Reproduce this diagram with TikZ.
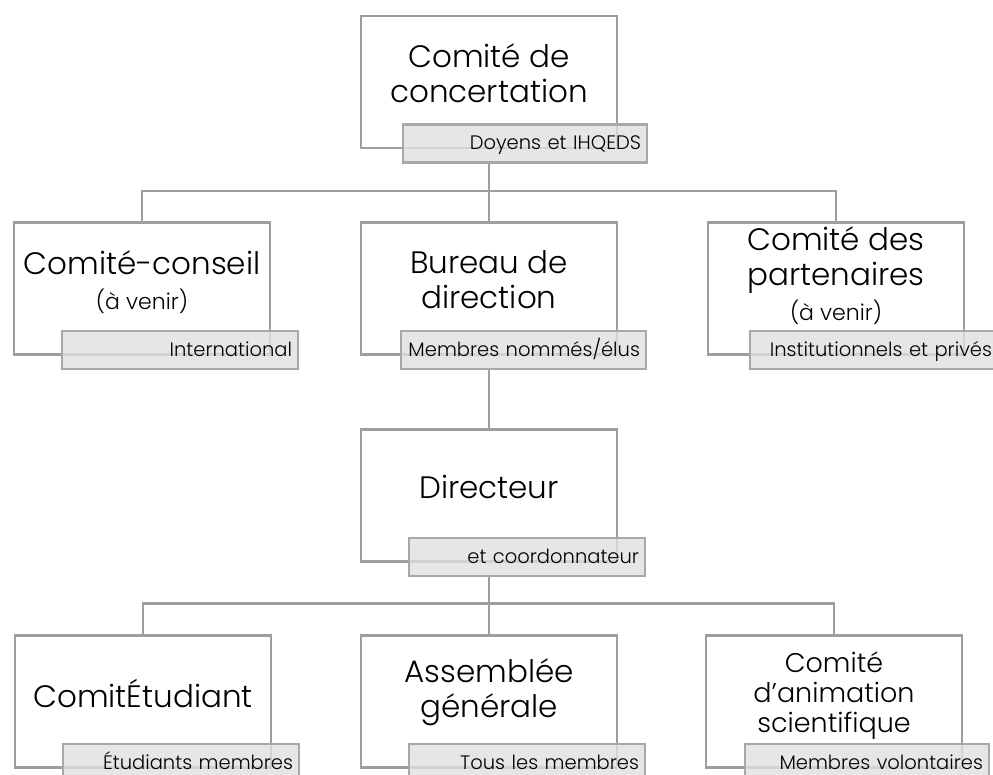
\documentclass[tikz,border=0pt]{standalone}
\usepackage{fontspec}
\setmainfont{Poppins}[UprightFont=* Light]
\usetikzlibrary{positioning}

\definecolor{traitgris}{HTML}{9E9E9E}
\definecolor{fondgris}{HTML}{E0E0E0}

\tikzset{
  boite/.style={draw=traitgris, line width=2.6pt, minimum width=256pt, minimum height=132pt, inner sep=0pt},
  titre/.style={align=center, inner sep=0pt, font=\fontsize{31}{35}\selectfont},
  etiq/.style={draw=traitgris!90, fill=fondgris, fill opacity=0.8, text opacity=1, line width=2.6pt,
    anchor=north east, text width=224pt, align=right, minimum height=38pt, inner xsep=6pt, inner ysep=0pt,
    text height=15pt, text depth=3pt, font=\fontsize{19.5}{22}\selectfont},
  lien/.style={draw=traitgris, line width=2.6pt},
}
\newcommand{\petit}{\fontsize{22}{25}\selectfont}

\begin{document}
\begin{tikzpicture}[x=1pt, y=-1pt]
\useasboundingbox (0,0) rectangle (993,775);

% boites
\node[boite] (cc) at (489,82) {};
\node[boite] (cons) at (142,288.5) {};
\node[boite] (bur) at (489,288.5) {};
\node[boite] (part) at (836,288.5) {};
\node[boite] (dir) at (489,495.5) {};
\node[boite] (etu) at (143,701.5) {};
\node[boite] (ass) at (489,701.5) {};
\node[boite] (anim) at (834,701.5) {};

% titres
\node[titre] (cc-t) at ([yshift=9pt]cc.center) {Comité de\\concertation};
\node[titre] (cons-t) at ([yshift=6pt]cons.center) {Comité-conseil\\\petit (à venir)};
\node[titre] (bur-t) at ([yshift=9pt]bur.center) {Bureau de\\direction};
\node[titre] (part-t) at ([yshift=13pt]part.center) {Comité des\\partenaires\\\petit (à venir)};
\node[titre] (dir-t) at ([yshift=9pt]dir.center) {Directeur};
\node[titre] (etu-t) at ([yshift=8pt]etu.center) {ComitÉtudiant};
\node[titre] (ass-t) at ([yshift=9pt]ass.center) {Assemblée\\générale};
\node[titre, font=\fontsize{27}{30}\selectfont] (anim-t) at ([yshift=6pt]anim.center) {Comité\\d'animation\\scientifique};

% etiquettes
\node[etiq, text width=232pt] (cc-e) at ([xshift=30pt, yshift=26pt]cc.south east) {Doyens et IHQEDS};
\node[etiq] (cons-e) at ([xshift=28pt, yshift=26pt]cons.south east) {International};
\node[etiq, text width=233pt] (bur-e) at ([xshift=29pt, yshift=26pt]bur.south east) {Membres nommés/élus};
\node[etiq, text width=236pt] (part-e) at ([xshift=34pt, yshift=26pt]part.south east) {Institutionnels et privés};
\node[etiq] (dir-e) at ([xshift=28pt, yshift=26pt]dir.south east) {et coordonnateur};
\node[etiq] (etu-e) at ([xshift=28pt, yshift=26pt]etu.south east) {Étudiants membres};
\node[etiq] (ass-e) at ([xshift=28pt, yshift=26pt]ass.south east) {Tous les membres};
\node[etiq, text width=232pt] (anim-e) at ([xshift=27pt, yshift=26pt]anim.south east) {Membres volontaires};

% liens
\draw[lien] (cc.center |- cc-e.south) -- (bur.north);
\draw[lien] (cons.north) |- ([yshift=30pt]part.north) -- (part.north);
\draw[lien] (bur.center |- bur-e.south) -- (dir.north);
\draw[lien] (dir.center |- dir-e.south) -- (ass.north);
\draw[lien] (etu.north) |- ([yshift=31pt]anim.north) -- (anim.north);
\end{tikzpicture}
\end{document}
